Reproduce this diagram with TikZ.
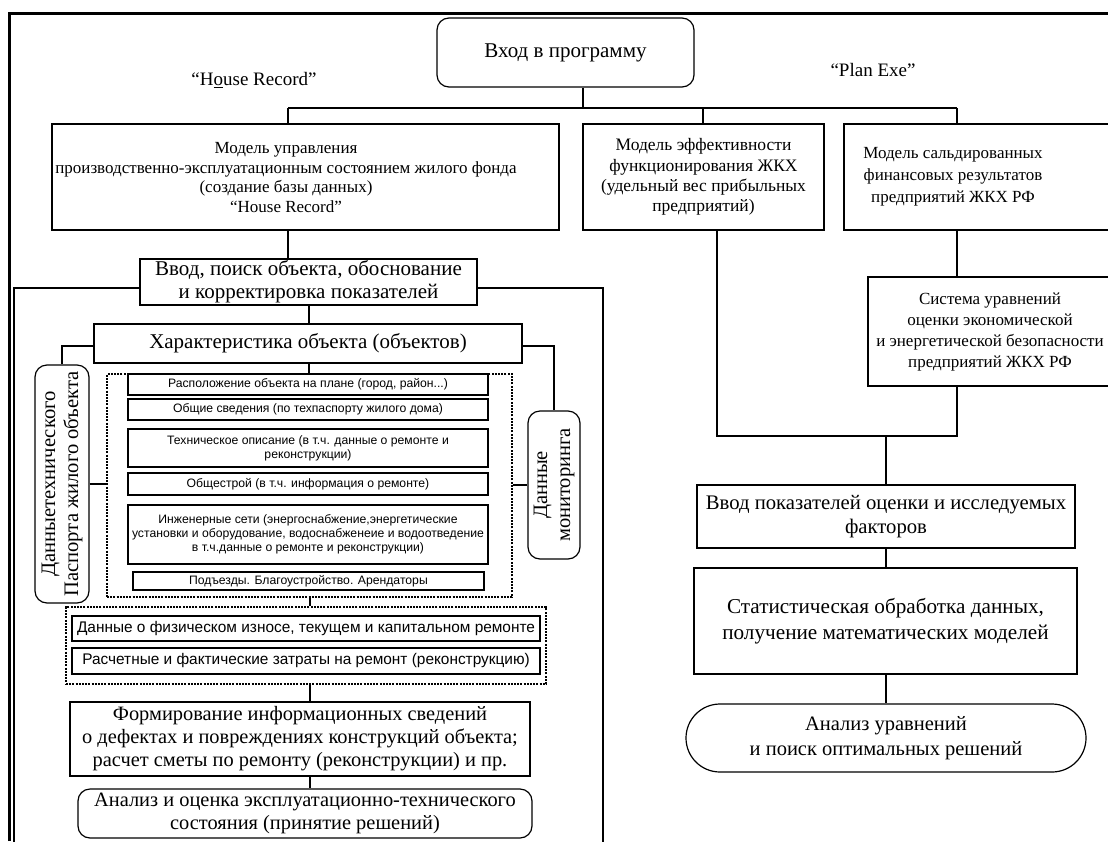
\documentclass[tikz,border=0pt]{standalone}
\usepackage{fontspec}
\setmainfont{Liberation Serif}
\newfontfamily\sansf{Liberation Sans}
\begin{document}
\begin{tikzpicture}[x=1pt,y=-1pt,
  every node/.style={inner sep=0pt, align=center},
  box/.style={draw, line width=1.2pt, inner sep=0pt, align=center},
  rbox/.style={box, rounded corners=12pt},
  conn/.style={line width=1.2pt},
  frameline/.style={line width=2.4pt},
  dbox/.style={draw, line width=1.9pt, dash pattern=on 2pt off 1.2pt},
  fsm/.style={font=\sansf\fontsize{12.2}{14}\selectfont},
  frow/.style={font=\sansf\fontsize{15.4}{17}\selectfont},
]
\useasboundingbox (0,0) rectangle (1108,841);
% outer frame
\draw[frameline] (9.5,841) -- (9.5,13.5) -- (1108,13.5);

% top
\node[rbox, font=\fontsize{21}{24}\selectfont, minimum width=257pt, minimum height=69pt] (entry) at (565.5,52.5) {Вход в программу};
\node[font=\fontsize{19}{22}\selectfont] (lhr) at (254,80) {“H\underline{o}use Record”};
\node[font=\fontsize{19}{22}\selectfont] (lpe) at (873,70) {“Plan Exe”};

\node[box, minimum width=507pt, minimum height=106pt] (mu) at (305.5,177) {};
\node[font=\fontsize{17}{19.7}\selectfont] (mut) at (286,177.5) {Модель управления\\производственно-эксплуатационным состоянием жилого фонда\\(создание базы данных)\\“House Record”};
\node[box, font=\fontsize{17.5}{20.3}\selectfont, minimum width=241pt, minimum height=106pt] (me) at (703.5,177) {Модель эффективности\\функционирования ЖКХ\\(удельный вес прибыльных\\предприятий)};
\node[box, minimum width=276pt, minimum height=106pt] (msbox) at (982,177) {};
\node[font=\fontsize{17}{22}\selectfont] (ms) at (953,177) {Модель сальдированных\\финансовых результатов\\предприятий ЖКХ РФ};

% left column
\node[box, font=\fontsize{21}{23}\selectfont, minimum width=337pt, minimum height=46pt] (vp) at (308.5,282) {Ввод, поиск объекта, обоснование\\и корректировка показателей};
\node[box, font=\fontsize{21}{23}\selectfont, minimum width=428pt, minimum height=39pt] (xa) at (308,343.5) {Характеристика объекта (объектов)};
\node[rbox, rotate=90, font=\fontsize{20.6}{23}\selectfont, minimum width=238pt, minimum height=54pt] (dt) at (62,484) {Данныетехнического\\Паспорта жилого объекта};
\node[dbox, minimum width=405pt, minimum height=223pt] (d1) at (309.5,485.5) {};
\node[rbox, rotate=90, font=\fontsize{20.5}{23}\selectfont, minimum width=148pt, minimum height=52pt] (mo) at (554,485) {Данные\\мониторинга};

\node[box, fsm, minimum width=360pt, minimum height=21pt] (i1) at (308,384.5) {Расположение объекта на плане (город, район...)};
\node[box, fsm, minimum width=360pt, minimum height=21pt] (i2) at (308,409.5) {Общие сведения (по техпаспорту жилого дома)};
\node[box, fsm, minimum width=360pt, minimum height=38pt] (i3) at (308,448) {Техническое описание (в т.ч. данные о ремонте и\\реконструкции)};
\node[box, fsm, minimum width=360pt, minimum height=22pt] (i4) at (308,484) {Общестрой (в т.ч. информация о ремонте)};
\node[box, fsm, minimum width=360pt, minimum height=59pt] (i5) at (308,534.5) {Инженерные сети (энергоснабжение,энергетические\\установки и оборудование, водоснабженеие и водоотведение\\в т.ч.данные о ремонте и реконструкции)};
\node[box, fsm, minimum width=351pt, minimum height=18pt] (i6) at (308.5,581) {Подъезды. Благоустройство. Арендаторы};

\node[dbox, minimum width=480pt, minimum height=77pt] (d2) at (306,645.5) {};
\node[box, frow, minimum width=468pt, minimum height=25pt] (r1) at (306,628.5) {Данные о физическом износе, текущем и капитальном ремонте};
\node[box, frow, minimum width=468pt, minimum height=26pt] (r2) at (306,661) {Расчетные и фактические затраты на ремонт (реконструкцию)};
\node[box, font=\fontsize{20.4}{23}\selectfont, minimum width=460pt, minimum height=74pt] (fo) at (300,739) {Формирование информационных сведений\\о дефектах и повреждениях конструкций объекта;\\расчет сметы по ремонту (реконструкции) и пр.};
\node[rbox, font=\fontsize{20.4}{23}\selectfont, minimum width=454pt, minimum height=49pt] (ao) at (305,813.5) {Анализ и оценка эксплуатационно-технического\\состояния (принятие решений)};

% right column
\node[box, font=\fontsize{17}{21}\selectfont, minimum width=244pt, minimum height=109pt] (sy) at (990,331.5) {Система уравнений\\оценки экономической\\и энергетической безопасности\\предприятий ЖКХ РФ};
\node[box, font=\fontsize{20.7}{24}\selectfont, minimum width=378pt, minimum height=63pt] (vi) at (886,516.5) {Ввод показателей оценки и исследуемых\\факторов};
\node[box, font=\fontsize{21.2}{26.5}\selectfont, minimum width=383pt, minimum height=106pt] (st) at (885.5,621) {Статистическая обработка данных,\\получение математических моделей};
\node[box, rounded corners=34pt, font=\fontsize{20.5}{25}\selectfont, minimum width=400pt, minimum height=68pt] (au) at (886,738) {Анализ уравнений\\и поиск оптимальных решений};

% connectors
\coordinate (hb) at (583,108);
\coordinate (x288) at (288,108);
\coordinate (x703) at (703,108);
\coordinate (x957) at (957,108);
\draw[line width=2pt] (entry.south -| hb) -- (hb);
\draw[conn] (x288) -- (x957);
\draw[conn] (x288) -- (mu.north -| x288);
\draw[conn] (x703) -- (me.north -| x703);
\draw[conn] (x957) -- (msbox.north -| x957);
\draw[conn] (mu.south -| x288) -- (vp.north -| x288);

\coordinate (fl) at (14,845);
\coordinate (fr) at (603,845);
\draw[conn] ([yshift=-6pt]vp.west) -| (fl);
\draw[conn] ([yshift=-6pt]vp.east) -| (fr);

\coordinate (cx) at (309,0);
\draw[conn] (vp.south -| cx) -- (xa.north -| cx);
\draw[conn] (xa.south -| cx) -- (i1.north -| cx);
\draw[conn] ([yshift=-2.5pt]xa.west) -| (dt.east);
\draw[conn] ([yshift=-2.5pt]xa.east) -| (mo.east);
\draw[conn] (dt.south) -- (d1.west |- dt.south);
\draw[conn] (d1.east |- mo.north) -- (mo.north);
\coordinate (lx) at (310,0);
\draw[conn] (d1.south -| lx) -- (d2.north -| lx);
\draw[conn] (d2.south -| lx) -- (fo.north -| lx);
\draw[conn] (fo.south -| lx) -- (ao.north -| lx);

\coordinate (j1) at (717,436);
\coordinate (j2) at (957,436);
\coordinate (j3) at (886,436);
\draw[conn] (me.south -| j1) -- (j1) -- (j2) -- (sy.south -| j2);
\draw[conn] (msbox.south -| j2) -- (sy.north -| j2);
\draw[conn] (j3) -- (vi.north -| j3);
\draw[conn] (vi.south -| j3) -- (st.north -| j3);
\draw[conn] (st.south -| j3) -- (au.north -| j3);
\end{tikzpicture}
\end{document}
